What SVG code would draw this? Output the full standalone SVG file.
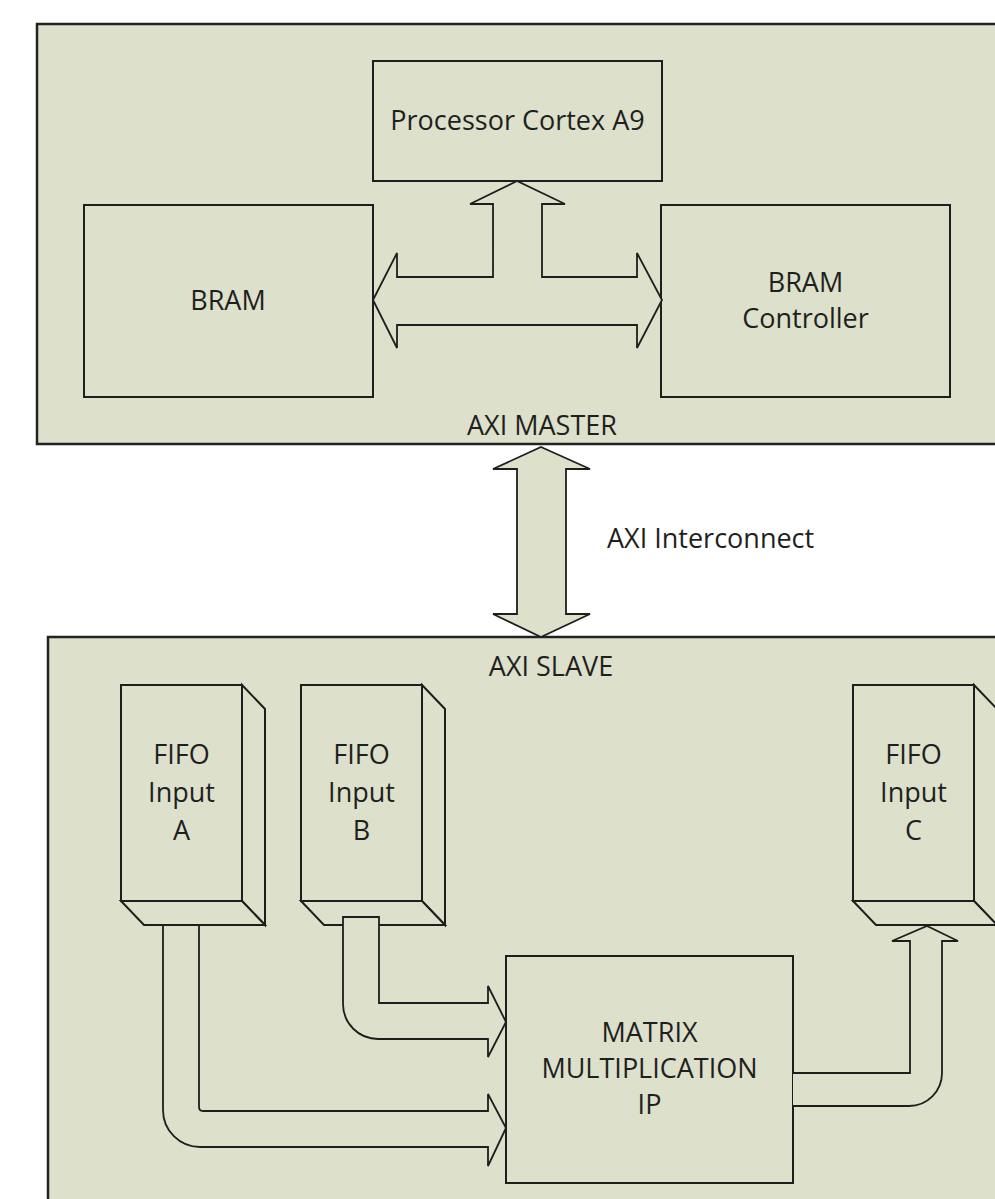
<svg xmlns="http://www.w3.org/2000/svg" width="995" height="1199" viewBox="0 0 995 1199">
<style>
.panel{fill:#dde0cb;stroke:#222;stroke-width:2.5}
.box{fill:#dde0cb;stroke:#1e1e1e;stroke-width:2}
.pipe{fill:#dde0cb;stroke:#1e1e1e;stroke-width:1.8;stroke-linejoin:miter}
.t{font-family:"Open Sans","Noto Sans",sans-serif;font-size:27px;fill:#1f1f1f;text-anchor:middle}
</style>
<rect width="995" height="1199" fill="#ffffff"/>
<g id="axi-master">
<rect class="panel" x="37" y="24" width="1000" height="420"/>
<text class="t" x="542" y="435">AXI MASTER</text>
</g>
<g id="axi-slave">
<rect class="panel" x="48" y="637" width="1000" height="620"/>
<text class="t" x="551" y="676">AXI SLAVE</text>
</g>
<g id="processor">
<rect class="box" x="373" y="61" width="289" height="120"/>
<text class="t" x="517.5" y="130">Processor Cortex A9</text>
</g>
<g id="bram">
<rect class="box" x="84" y="205" width="289" height="192"/>
<text class="t" x="228" y="310">BRAM</text>
</g>
<g id="bram-controller">
<rect class="box" x="661" y="205" width="289" height="192"/>
<text class="t" x="805.5" y="292">BRAM</text>
<text class="t" x="805.5" y="328">Controller</text>
</g>
<g id="fifo-a">
<rect class="box" x="121" y="685" width="121" height="216"/>
<polygon class="box" points="242,685 265,709 265,925 242,901"/>
<polygon class="box" points="121,901 242,901 265,925 144,925"/>
<text class="t" x="181.5" y="764">FIFO</text>
<text class="t" x="181.5" y="802">Input</text>
<text class="t" x="181.5" y="840">A</text>
</g>
<g id="fifo-b">
<rect class="box" x="301" y="685" width="121" height="216"/>
<polygon class="box" points="422,685 445,709 445,925 422,901"/>
<polygon class="box" points="301,901 422,901 445,925 324,925"/>
<text class="t" x="361.5" y="764">FIFO</text>
<text class="t" x="361.5" y="802">Input</text>
<text class="t" x="361.5" y="840">B</text>
</g>
<g id="fifo-c">
<rect class="box" x="853" y="685" width="121" height="216"/>
<polygon class="box" points="974,685 997,709 997,925 974,901"/>
<polygon class="box" points="853,901 974,901 997,925 876,925"/>
<text class="t" x="913.5" y="764">FIFO</text>
<text class="t" x="913.5" y="802">Input</text>
<text class="t" x="913.5" y="840">C</text>
</g>
<g id="matrix-ip">
<rect class="box" x="506" y="956" width="287" height="227"/>
<text class="t" x="649.5" y="1042">MATRIX</text>
<text class="t" x="649.5" y="1078">MULTIPLICATION</text>
<text class="t" x="649.5" y="1114">IP</text>
</g>
<g id="connectors">
<path class="pipe" d="M373,300 L397,253 V277 H493 V204 H470 L517,181 L565,204 H542 V277 H637 V253 L662,300 L637,348 V325 H397 V348 Z"/>
<path class="pipe" d="M541,447 L590,469 H566 V614 H590 L541,637 L493,614 H517 V469 H493 Z"/>
<path class="pipe" d="M163,925 H199 V1107 Q199,1111 203,1111 H488 V1094 L506,1128 L488,1166 V1147 H200 A37,37 0 0 1 163,1110 Z"/>
<path class="pipe" d="M343,917 H379 V1003 H488 V986 L506,1022 L488,1057 V1039 H378 A35,35 0 0 1 343,1004 Z"/>
<path class="pipe" d="M793,1073 H910 V941 H892 L927,926 L958,941 H942 V1073 A33,33 0 0 1 909,1106 H793"/>
</g>
<text class="t" x="607" y="548" style="text-anchor:start">AXI Interconnect</text>
</svg>
